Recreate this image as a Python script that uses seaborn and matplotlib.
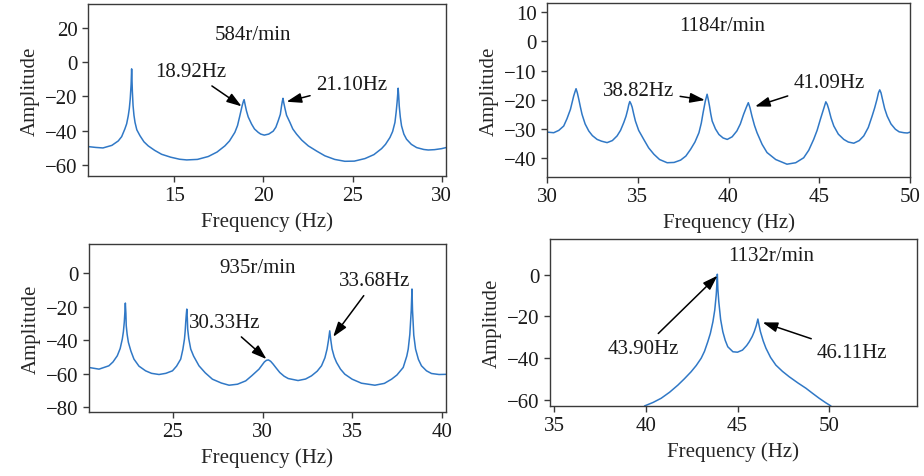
import numpy as np
import pandas as pd
import matplotlib
matplotlib.use('Agg')
import matplotlib.pyplot as plt
import seaborn as sns

# ── spectrum values ─────────────────────────────────────────────────────────
f584 = [10.16, 10.6, 11.0, 11.5, 11.86, 12.05, 12.23, 12.33, 12.42, 12.48,
        12.53, 12.58, 12.61, 12.65, 12.69, 12.74, 12.80, 12.9, 13.08, 13.3,
        13.54, 13.9, 14.29, 14.8, 15.3, 15.7, 16.3, 16.91, 17.4, 17.84,
        18.1, 18.4, 18.55, 18.68, 18.81, 18.88, 18.92, 18.98, 19.05, 19.15,
        19.34, 19.5, 19.71, 19.85, 20.05, 20.3, 20.55, 20.7, 20.83, 20.95,
        21.02, 21.06, 21.10, 21.15, 21.22, 21.3, 21.49, 21.65, 21.86, 22.15,
        22.52, 23.0, 23.45, 24.0, 24.57, 25.1, 25.7, 26.2, 26.63, 26.85,
        27.1, 27.25, 27.38, 27.45, 27.5, 27.53, 27.56, 27.59, 27.62, 27.68,
        27.75, 27.88, 28.03, 28.3, 28.6, 29.0, 29.25, 29.6, 30.0, 30.24]
a584 = [-49.3, -49.8, -50.1, -48.6, -46.0, -43.5, -39.0, -36.0, -31.3, -27.0,
        -21.5, -13.0, -3.9, -17.0, -25.4, -31.0, -35.2, -39.5, -43.0, -46.5,
        -48.9, -51.5, -53.8, -55.5, -56.7, -57.1, -56.8, -55.1, -52.5, -48.9,
        -46.0, -41.0, -37.0, -31.3, -25.4, -22.8, -21.9, -25.0, -28.4, -32.0,
        -36.2, -39.0, -41.0, -42.0, -42.6, -42.0, -40.3, -38.0, -34.3, -30.5,
        -25.5, -23.0, -21.1, -24.0, -27.4, -31.0, -35.2, -39.0, -42.0, -45.5,
        -48.9, -52.0, -54.7, -56.8, -57.9, -57.8, -56.3, -54.0, -50.5, -48.0,
        -44.0, -40.5, -35.2, -29.0, -23.5, -19.5, -15.2, -19.5, -25.5, -32.0,
        -37.2, -42.0, -45.0, -48.0, -49.9, -51.0, -51.3, -51.1, -50.5, -49.9]

f1184 = [30.0, 30.37, 30.65, 30.92, 31.1, 31.29, 31.38, 31.47, 31.54, 31.6,
         31.67, 31.75, 31.84, 31.93, 32.1, 32.3, 32.5, 32.76, 33.0, 33.31,
         33.6, 33.86, 34.05, 34.23, 34.35, 34.45, 34.5, 34.56, 34.62, 34.69,
         34.78, 34.87, 35.05, 35.33, 35.6, 35.89, 36.2, 36.62, 37.0, 37.36,
         37.65, 37.91, 38.15, 38.37, 38.5, 38.6, 38.72, 38.82, 38.88, 38.95,
         39.02, 39.1, 39.28, 39.47, 39.7, 39.93, 40.2, 40.46, 40.65, 40.83,
         40.98, 41.09, 41.18, 41.29, 41.43, 41.57, 41.85, 42.12, 42.6, 43.22,
         43.7, 44.14, 44.42, 44.69, 44.88, 45.06, 45.22, 45.36, 45.44, 45.52,
         45.65, 45.8, 46.05, 46.35, 46.6, 46.9, 47.2, 47.45, 47.7, 47.91,
         48.05, 48.18, 48.26, 48.33, 48.4, 48.48, 48.6, 48.74, 48.95, 49.19,
         49.4, 49.66, 49.85, 50.0]
a1184 = [-31.1, -31.3, -30.5, -29.0, -26.5, -23.3, -21.0, -18.7, -17.3, -16.2,
         -17.6, -19.8, -22.5, -25.0, -28.3, -30.7, -32.3, -33.6, -34.2, -34.7,
         -34.0, -32.4, -30.5, -27.8, -25.7, -23.3, -21.8, -20.6, -21.3, -22.5,
         -25.0, -27.3, -30.5, -33.6, -36.5, -38.7, -40.5, -41.6, -41.5, -40.7,
         -39.3, -37.0, -34.5, -31.3, -28.0, -24.4, -20.5, -18.1, -19.8, -22.1,
         -24.8, -27.3, -30.0, -31.9, -33.1, -33.6, -32.7, -30.7, -28.3, -25.0,
         -22.6, -21.0, -22.7, -25.6, -28.8, -31.3, -35.3, -38.1, -40.5, -42.1,
         -41.6, -39.9, -37.3, -33.6, -30.5, -26.7, -23.5, -20.7, -21.6, -23.2,
         -26.3, -29.0, -31.8, -33.6, -34.5, -34.9, -34.0, -32.4, -29.5, -25.6,
         -22.8, -19.8, -17.6, -16.6, -17.6, -19.8, -23.0, -25.6, -28.3, -30.1,
         -31.0, -31.3, -31.4, -31.1]

f935 = [20.31, 20.87, 21.42, 21.65, 21.89, 22.05, 22.17, 22.23, 22.28, 22.31,
        22.34, 22.37, 22.39, 22.44, 22.51, 22.65, 22.82, 23.1, 23.47, 23.8,
        24.22, 24.6, 24.97, 25.2, 25.43, 25.55, 25.64, 25.68, 25.71, 25.74,
        25.77, 25.80, 25.82, 25.88, 25.99, 26.15, 26.45, 26.8, 27.2, 27.7,
        28.13, 28.6, 29.06, 29.4, 29.8, 30.1, 30.22, 30.33, 30.45, 30.59,
        30.75, 30.96, 31.2, 31.43, 31.98, 32.4, 32.73, 33.05, 33.29, 33.48,
        33.6, 33.68, 33.75, 33.81, 33.88, 34.0, 34.13, 34.35, 34.59, 35.0,
        35.52, 36.27, 36.8, 37.2, 37.5, 37.85, 38.05, 38.13, 38.22, 38.3,
        38.34, 38.37, 38.44, 38.54, 38.7, 38.87, 39.15, 39.43, 39.85, 40.24]
a935 = [-56.3, -57.3, -55.3, -53.0, -49.3, -45.0, -39.3, -35.0, -29.3, -24.0,
        -17.8, -24.0, -31.3, -36.5, -41.3, -46.5, -51.3, -55.5, -58.3, -59.8,
        -60.5, -59.8, -58.3, -55.5, -51.3, -45.5, -39.3, -34.5, -29.3, -25.0,
        -21.4, -27.0, -33.3, -39.0, -45.3, -49.5, -55.3, -59.5, -63.3, -65.6,
        -66.9, -66.3, -64.3, -61.2, -57.3, -53.0, -52.0, -51.8, -52.6, -54.3,
        -56.5, -59.3, -61.5, -62.9, -64.1, -63.2, -61.3, -58.5, -55.3, -50.5,
        -45.3, -40.0, -34.4, -40.0, -45.3, -50.0, -53.3, -57.3, -60.3, -63.3,
        -65.7, -66.9, -65.8, -63.3, -60.8, -56.3, -49.5, -45.3, -36.5, -22.0,
        -9.4, -22.0, -37.0, -45.3, -51.5, -55.3, -58.3, -59.9, -60.5, -60.4]

f1132 = [39.93, 40.4, 40.84, 41.3, 41.75, 42.1, 42.47, 42.75, 43.02, 43.2,
         43.38, 43.52, 43.66, 43.76, 43.84, 43.88, 43.90, 43.93, 43.98, 44.08,
         44.2, 44.33, 44.47, 44.75, 45.0, 45.27, 45.5, 45.64, 45.8, 45.91,
         46.02, 46.11, 46.18, 46.25, 46.4, 46.55, 46.8, 47.09, 47.45, 47.82,
         48.3, 48.73, 49.1, 49.45, 49.8, 50.09]
a1132 = [-63.0, -61.3, -59.3, -56.4, -53.0, -50.0, -46.6, -43.6, -40.1, -36.8,
         -32.2, -28.2, -22.6, -17.0, -9.7, -4.0, 0.2, -7.0, -13.0, -21.5,
         -27.4, -31.5, -34.6, -37.0, -37.2, -36.2, -34.0, -32.2, -29.7, -27.4,
         -24.5, -21.3, -24.5, -27.4, -31.8, -35.3, -39.7, -43.4, -46.4, -49.0,
         -52.0, -54.5, -57.0, -59.3, -61.4, -63.0]

speeds = ['584r/min', '1184r/min', '935r/min', '1132r/min']

# peak labels: (text, tip x, tip y, text x, text y)
notes584 = [('18.92Hz', 18.78, -25.8, 15.94, -5.5),
            ('21.10Hz', 21.30, -23.1, 24.95, -13.3)]
notes1184 = [('38.82Hz', 38.70, -20.1, 35.04, -16.7),
             ('41.09Hz', 41.46, -22.3, 45.55, -14.1)]
notes935 = [('30.33Hz', 30.22, -51.3, 27.89, -29.3),
            ('33.68Hz', 33.94, -38.0, 36.27, -4.4)]
notes1132 = [('43.90Hz', 43.91, -0.5, 39.86, -35.3),
             ('46.11Hz', 46.37, -22.9, 51.23, -37.3)]

sns.set_style('ticks')
plt.rcParams['font.family'] = ['Liberation Serif', 'DejaVu Serif']
plt.rcParams['font.size'] = 15
plt.rcParams['axes.unicode_minus'] = True

LINE = '#3078c6'
EDGE = '#3a3a3a'

fig = plt.figure(figsize=(9.24, 4.77), dpi=100)

panels = [
    # freq, amp, notes, rect, xlim, ylim, xticks, yticks, title pos
    (f584, a584, notes584, [0.0952, 0.6289, 0.3874, 0.3606], (10.16, 30.24), (-66.5, 34),
     [15, 20, 25, 30], [20, 0, -20, -40, -60], (19.41, 16.0)),
    (f1184, a1184, notes1184, [0.5920, 0.6268, 0.3929, 0.3648], (30, 50), (-46.5, 13.2),
     [30, 35, 40, 45, 50], [10, 0, -10, -20, -30, -40], (39.66, 5.4)),
    (f935, a935, notes935, [0.0963, 0.1342, 0.3864, 0.3522], (20.31, 40.24), (-82.9, 17.5),
     [25, 30, 35, 40], [0, -20, -40, -60, -80], (29.75, 3.6)),
    (f1132, a1132, notes1132, [0.5952, 0.1468, 0.3972, 0.3501], (34.78, 54.78), (-63, 17.1),
     [35, 40, 45, 50], [0, -20, -40, -60], (46.82, 9.1)),
]

for (fx, ay, notes, rect, xl, yl, xt, yt, tpos), speed in zip(panels, speeds):
    ax = fig.add_axes(rect)
    df = pd.DataFrame({'Frequency': fx, 'Amplitude': ay})
    sns.lineplot(data=df, x='Frequency', y='Amplitude', ax=ax, color=LINE,
                 linewidth=1.1, estimator=None, sort=False)
    ax.set_xlim(*xl)
    ax.set_ylim(*yl)
    ax.set_xticks(xt)
    ax.set_yticks(yt)
    ax.set_xlabel('Frequency (Hz)')
    ax.set_ylabel('Amplitude')
    for s in ax.spines.values():
        s.set_visible(True)
        s.set_color(EDGE)
        s.set_linewidth(1.0)
    ax.tick_params(colors=EDGE, labelcolor='#1a1a1a', length=4, width=1.0, labelsize=15)
    ax.text(tpos[0], tpos[1], speed, ha='center', va='center', fontsize=15, color='#1a1a1a')
    for txt, x0, y0, x1, y1 in notes:
        ax.annotate(txt, xy=(x0, y0), xytext=(x1, y1), ha='center', va='center',
                    fontsize=15, color='#1a1a1a',
                    arrowprops=dict(arrowstyle='-|>,head_length=0.6,head_width=0.2',
                                    color='black', lw=1.1, shrinkA=2, shrinkB=0,
                                    mutation_scale=15))

fig.savefig('out.png', dpi=100)
